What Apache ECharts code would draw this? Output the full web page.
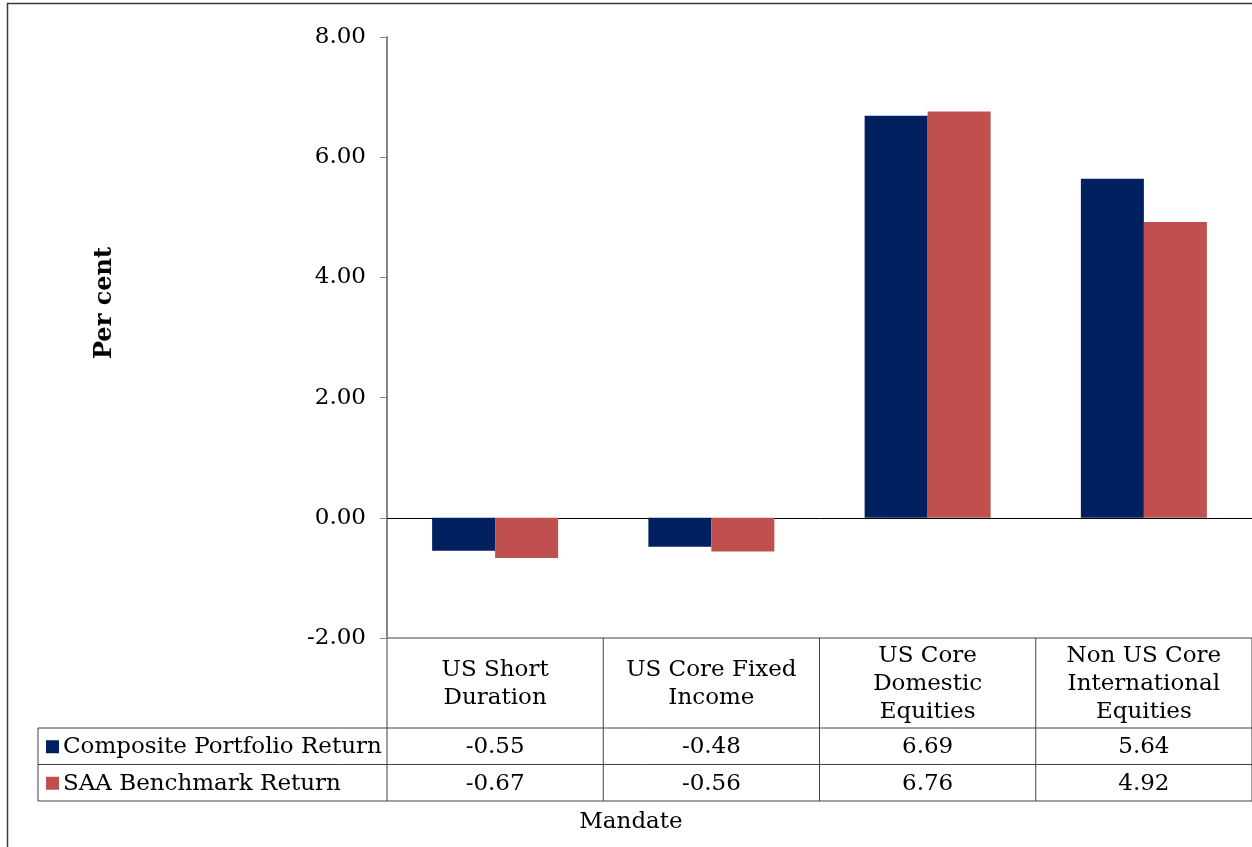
<!DOCTYPE html>
<html>
<head>
<meta charset="utf-8">
<script src="https://cdn.jsdelivr.net/npm/echarts@6/dist/echarts.min.js"></script>
<style>
  html, body { margin: 0; padding: 0; background: #fff; }
  #chart { width: 1252px; height: 847px; }
</style>
</head>
<body>
<div id="chart"></div>
<script>
// Mandate categories and returns (per cent)
const categories = ['US Short\nDuration', 'US Core Fixed\nIncome', 'US Core\nDomestic\nEquities', 'Non US Core\nInternational\nEquities'];
const seriesNames = ['Composite Portfolio Return', 'SAA Benchmark Return'];
const compositeReturn = [-0.55, -0.48, 6.69, 5.64];
const benchmarkReturn = [-0.67, -0.56, 6.76, 4.92];
const yTicks = { min: -2, max: 8, interval: 2 };

const FONT = 'DejaVu Serif';
const FS = 23;
const COLORS = ['#002060', '#C0504D'];
const LINE = '#404040';

const chart = echarts.init(document.getElementById('chart'));

chart.setOption({
  animation: false,
  grid: { left: 387, top: 37, width: 870, height: 601 },
  xAxis: {
    type: 'category',
    data: categories,
    axisLine: { onZero: true, lineStyle: { color: '#000', width: 1 } },
    axisTick: { show: false },
    axisLabel: { show: false }
  },
  yAxis: {
    type: 'value',
    min: yTicks.min, max: yTicks.max, interval: yTicks.interval,
    axisLine: { show: true, lineStyle: { color: '#868686', width: 2 } },
    axisTick: { show: true, length: 7, lineStyle: { color: '#868686', width: 1 } },
    splitLine: { show: false },
    axisLabel: { formatter: v => v.toFixed(2), fontFamily: FONT, fontSize: FS, color: '#000', margin: 21 }
  },
  series: [
    { type: 'bar', name: seriesNames[0], data: compositeReturn, barWidth: 63, barGap: '0%',
      itemStyle: { color: COLORS[0] } },
    { type: 'bar', name: seriesNames[1], data: benchmarkReturn, barWidth: 63, barGap: '0%',
      itemStyle: { color: COLORS[1] } }
  ]
});

// Data table under the plot, laid out from the axis scales
function buildTable() {
  const centers = categories.map((c, i) => chart.convertToPixel({ xAxisIndex: 0 }, i));
  const band = centers.length > 1 ? centers[1] - centers[0] : 217;
  const yTop = chart.convertToPixel({ yAxisIndex: 0 }, yTicks.min);
  const headerH = 90, rowH = 36.5;
  const tableLeft = 38;
  const gridLeft = centers[0] - band / 2;
  const gridRight = centers[centers.length - 1] + band / 2;
  const row1 = yTop + headerH, row2 = row1 + rowH, row3 = row2 + rowH;

  const els = [];
  const line = (x1, y1, x2, y2, color) => els.push({
    type: 'line', shape: { x1, y1, x2, y2 },
    style: { stroke: color || LINE, lineWidth: 1 }, silent: true
  });
  const text = (x, y, str, opts, extra) => els.push(Object.assign({
    type: 'text', x, y,
    style: Object.assign({ text: str, fontFamily: FONT, fontSize: FS, fill: '#000',
      align: 'center', verticalAlign: 'middle', lineHeight: 28 }, opts || {})
  }, extra || {}));

  // outer chart border
  els.push({ type: 'rect', shape: { x: 7.5, y: 3.5, width: 1300, height: 900 },
    style: { fill: null, stroke: '#3a3a3a', lineWidth: 1.5 }, silent: true });

  // value axis title
  text(105, 303, 'Per cent', { fontWeight: 'bold', fontSize: 24 }, { rotation: Math.PI / 2 });

  // table grid
  line(gridLeft, yTop, gridRight + 5, yTop);
  line(tableLeft, row1, gridRight + 5, row1);
  line(tableLeft, row2, gridRight + 5, row2);
  line(tableLeft, row3, gridRight + 5, row3);
  line(tableLeft, row1, tableLeft, row3);
  for (let i = 0; i <= centers.length; i++) {
    const x = gridLeft + i * band;
    line(x, yTop, x, row3);
  }

  // header and value cells
  centers.forEach((cx, i) => {
    text(cx, yTop + headerH / 2 + 1, categories[i]);
    text(cx, row1 + rowH / 2 + 1, compositeReturn[i].toFixed(2));
    text(cx, row2 + rowH / 2 + 1, benchmarkReturn[i].toFixed(2));
  });

  // legend keys inside the row labels
  [compositeReturn, benchmarkReturn].forEach((_, k) => {
    const cy = (k === 0 ? row1 : row2) + rowH / 2;
    els.push({ type: 'rect', shape: { x: 46, y: cy - 6, width: 13, height: 13 },
      style: { fill: COLORS[k] }, silent: true });
    text(63, cy + 1, seriesNames[k], { align: 'left' });
  });

  // category axis title
  text(631, row3 + 21, 'Mandate');

  chart.setOption({ graphic: { elements: els } });
}
buildTable();
</script>
</body>
</html>
